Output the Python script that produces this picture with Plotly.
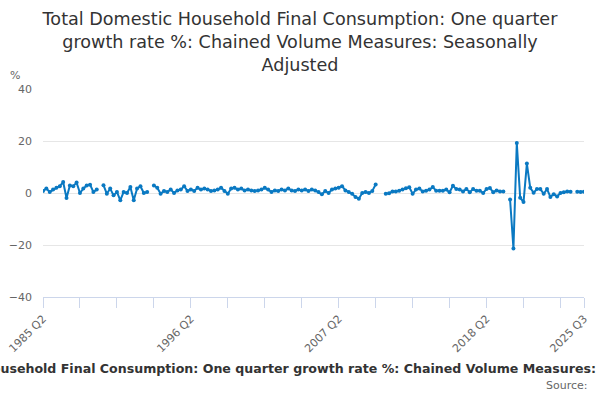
import plotly.graph_objects as go

# quarter labels 1985 Q2 .. 2025 Q3
quarters = [f"{1985 + (q // 4)} Q{q % 4 + 1}" for q in range(1, 1 + 162)]

# one quarter growth rate %, None where the series has no value
growth = [
    0.8, 1.7, 0.4, 1.3, 2.0, 2.6, 4.2, -1.9, 2.9, 2.6,
    4.0, 0.0, 1.7, 2.9, 3.2, 0.4, 1.3, None, 3.0, -0.3,
    1.7, -0.9, 0.4, -2.8, 0.4, 0.0, 2.3, -2.8, 1.7, 2.6,
    0.0, 0.4, None, 2.9, 2.0, -0.3, 0.8, 0.4, 1.3, 0.0,
    1.0, 1.3, 2.6, 0.8, 1.3, 0.8, 2.0, 1.3, 1.7, 1.3,
    0.8, 1.0, 1.3, 2.0, 0.8, -0.3, 1.7, 2.0, 1.3, 1.7,
    1.0, 1.3, 1.0, 0.8, 1.0, 1.3, 2.0, 1.3, 0.4, 1.0,
    0.8, 1.3, 1.0, 1.7, 1.0, 0.8, 1.3, 1.0, 1.3, 0.8,
    1.3, 1.0, 0.4, -0.5, 0.8, 0.0, 1.3, 1.7, 2.0, 2.6,
    1.0, 0.4, -0.3, -1.5, -2.2, 0.0, 0.4, 0.0, 0.8, 3.3,
    None, None, -0.3, -0.1, 0.6, 0.6, 0.9, 1.3, 1.8, 2.2,
    -0.3, 1.3, 1.7, 0.6, 0.9, 1.3, 2.3, 0.9, 0.9, 0.9,
    1.3, 0.3, 2.8, 1.5, 1.3, 0.6, 1.5, 0.3, 1.5, 0.9,
    0.9, 0.0, 1.5, 1.9, 0.3, 1.0, 0.6, 0.6, None, -2.5,
    -21.3, 19.2, -1.8, -3.5, 11.3, 2.0, 0.1, 1.5, 1.5, -0.3,
    1.5, -1.5, -0.5, -1.3, 0.0, 0.3, 0.6, 0.5, None, 0.5,
    0.4, 0.5,
]

tick_idx = list(range(0, 155, 11)) + [161]
label_idx = [0, 44, 88, 132, 161]
y_ticks = [-40, -20, 0, 20, 40]

title = ("Total Domestic Household Final Consumption: One quarter<br>"
         "growth rate %: Chained Volume Measures: Seasonally<br>Adjusted")
series_name = ("Total Domestic Household Final Consumption: One quarter growth rate %: "
               "Chained Volume Measures: Seasonally Adjusted")

fig = go.Figure()
fig.add_trace(go.Scatter(
    x=quarters, y=growth, mode="lines+markers", connectgaps=False,
    line=dict(color="#0a79c2", width=2),
    marker=dict(color="#0a79c2", size=4),
    name=series_name, showlegend=False,
))

fig.update_layout(
    width=600, height=400,
    paper_bgcolor="white", plot_bgcolor="white",
    font=dict(family="DejaVu Sans", color="#666666"),
    margin=dict(l=43, r=16, t=89, b=103, autoexpand=False),
    title=dict(text=title, x=0.5, xanchor="center", xref="container",
               y=0.938, yanchor="top", yref="container", automargin=False,
               font=dict(size=17.6, color="#333333")),
)
fig.update_xaxes(
    type="category", range=[0, 161], automargin=False,
    tickvals=[quarters[i] for i in tick_idx],
    ticktext=[quarters[i] if i in label_idx else "" for i in tick_idx],
    tickangle=-45, ticks="outside", ticklen=10, tickcolor="#ccd6eb",
    showline=True, linecolor="#ccd6eb", linewidth=1,
    showgrid=False, tickfont=dict(size=11, color="#666666"),
)
fig.update_yaxes(
    range=[-40, 40], tickvals=y_ticks, showgrid=True, gridcolor="#e6e6e6",
    zeroline=False, showline=False, ticks="", automargin=False,
    ticklabelstandoff=10, tickfont=dict(size=11, color="#666666"),
)

fig.add_annotation(text="%", xref="paper", yref="paper", x=-0.064, y=1.065,
                   xanchor="left", yanchor="middle", showarrow=False,
                   font=dict(size=11, color="#666666"))
# legend-style caption, centred on the page and running past both edges
fig.add_annotation(text="<b>" + series_name + "</b>", xref="paper", yref="paper",
                   x=0.489, y=-0.342, xanchor="center", yanchor="middle",
                   showarrow=False, font=dict(size=12.6, color="#333333"))
fig.add_annotation(text="Source:", xref="paper", yref="paper", x=1.012, y=-0.425,
                   xanchor="right", yanchor="middle", showarrow=False,
                   font=dict(size=11, color="#666666"))

# drop the page's default body margin so the figure sits at the window corner
fig.write_html("out.html", config={"displayModeBar": False},
               post_script="document.body.style.margin='0';")
